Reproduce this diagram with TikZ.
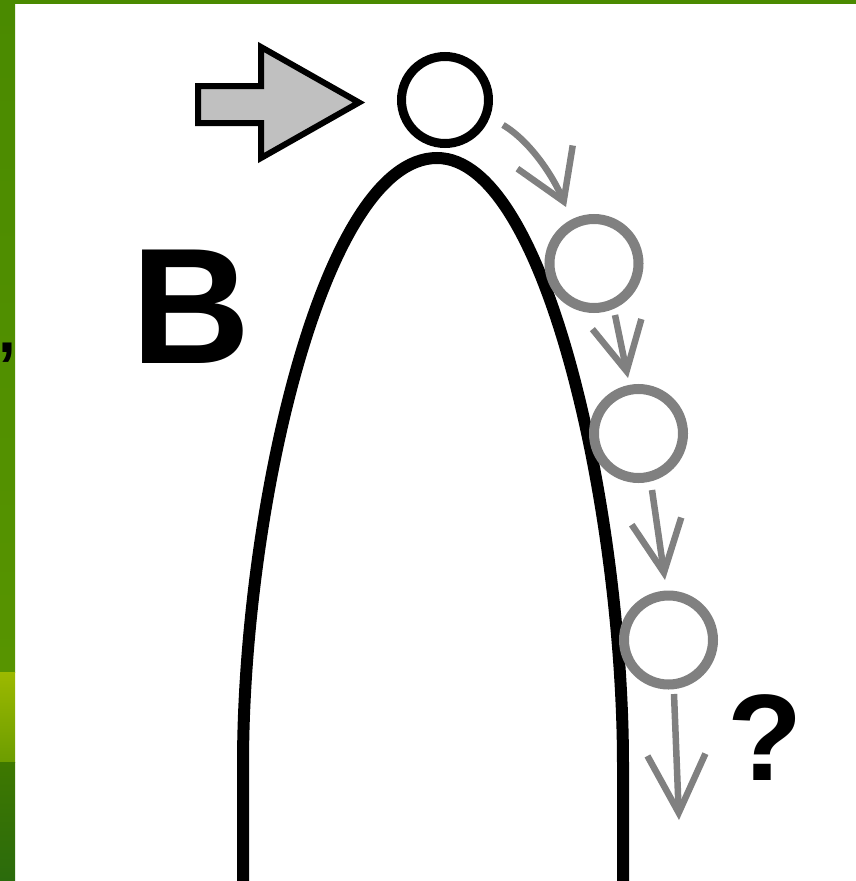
\documentclass[tikz,border=0pt]{standalone}
\usepackage{fontspec}
\setmainfont{Liberation Sans}
\usetikzlibrary{arrows.meta}
\definecolor{leaf}{HTML}{4A8A00}
\definecolor{leafmid}{HTML}{579400}
\definecolor{leaflight}{HTML}{9CB900}
\definecolor{leafdim}{HTML}{6C9D00}
\definecolor{leafdark}{HTML}{3E7800}
\definecolor{leafdeep}{HTML}{2B6B0C}
\definecolor{ghostgray}{HTML}{808080}
\definecolor{blockgray}{HTML}{C0C0C0}
\begin{document}
\begin{tikzpicture}[x=1pt, y=-1pt,
  ball/.style={circle, draw=black, minimum size=87pt, inner sep=0pt, line width=9pt},
  ghost/.style={circle, draw=ghostgray, minimum size=89pt, inner sep=0pt, line width=10pt},
  fall/.style={draw=ghostgray, line width=6.5pt},
  bigtext/.style={anchor=base west, inner sep=0pt, text=black}
]
\useasboundingbox (0,0) rectangle (856,881);
\begin{scope}
\clip (0,0) rectangle (856,881);

% green frame on the top and left
\fill[leaf] (0,0) rectangle (856,4);
\shade[top color=leaf, bottom color=leafmid] (0,0) rectangle (15,672);
\shade[top color=leaflight, bottom color=leafdim] (0,672) rectangle (15,762);
\shade[top color=leafdark, bottom color=leafdeep] (0,762) rectangle (15,881);
\node[bigtext, font=\bfseries\fontsize{64}{64}\selectfont] (comma) at (-1.5,352) {,};

% the hill
\draw[line width=12pt]
  (243,900) -- (243,765)
  .. controls (243,515) and (322,158) .. (437,158)
  .. controls (547,158) and (623,515) .. (623,765)
  -- (623,900);

% push arrow
\draw[line width=6pt, fill=blockgray, line join=miter]
  (198,86) -- (261,86) -- (261,47) -- (359,102.5) -- (261,158) -- (261,123) -- (198,123) -- cycle;

% ball on top and its later positions
\node[ball] (b0) at (445,100) {};
\node[ghost] (b1) at (594,263.5) {};
\node[ghost] (b2) at (638.5,433.5) {};
\node[ghost] (b3) at (668.5,640) {};

% motion arrows
\coordinate (s1) at (503,125);
\coordinate (t1) at (566,207);
\coordinate (s2) at (615,315);
\coordinate (t2) at (628,378);
\coordinate (s3) at (652,490);
\coordinate (t3) at (665,580);
\coordinate (s4) at (674,694);
\coordinate (t4) at (679,820);
\draw[fall, -{Straight Barb[length=48pt, width=60pt]}]
  (s1) .. controls (530,141) and (553,176) .. (t1);
\draw[fall, -{Straight Barb[length=48pt, width=50pt]}] (s2) -- (t2);
\draw[fall, -{Straight Barb[length=52pt, width=50pt]}] (s3) -- (t3);
\draw[fall, -{Straight Barb[length=58pt, width=58pt]}] (s4) -- (t4);

% labels
\node[bigtext, font=\bfseries\fontsize{165}{165}\selectfont] (B) at (131,363) {B};
\node[bigtext, font=\bfseries\fontsize{123}{123}\selectfont] (q) at (727,780) {?};
\end{scope}
\end{tikzpicture}
\end{document}
